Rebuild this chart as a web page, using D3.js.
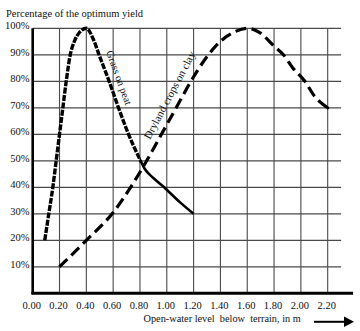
<!DOCTYPE html>
<html>
<head>
<meta charset="utf-8">
<script src="https://cdn.jsdelivr.net/npm/d3@7"></script>
<style>
html,body{margin:0;padding:0;background:#fff;}
svg{display:block;}
text{font-family:"Liberation Serif","Times New Roman",serif;fill:#111;}
</style>
</head>
<body>
<svg id="chart" width="360" height="331"></svg>
<script>
// Data (depth of open water below terrain in m, % of optimum yield)
const grassX = [0.09,0.12,0.15,0.175,0.20,0.225,0.25,0.28,0.31,0.35,0.40,0.455,0.495,0.57,0.64,0.715,0.80,0.835,0.90,0.98,1.095,1.20];
const grassY = [20,30,40,50,60,70,80,90,95,98.5,100,95.5,90,80,70,60,50.5,47,43.5,40,34.5,30];
const grassSolidFrom = 0.80;
const dryX = [0.20,0.40,0.60,0.73,0.85,0.96,1.07,1.18,1.31,1.41,1.50,1.60,1.69,1.80,1.87,1.94,2.03,2.10,2.20];
const dryY = [10,20,30.5,40,50,60,70,80,90,95.5,98.5,100,98.5,93.3,90,85,80,74.5,70];
const xTicks = [0,0.2,0.4,0.6,0.8,1.0,1.2,1.4,1.6,1.8,2.0,2.2];
const xTickLabels = ["0.00","0.20","0.40","0.60","0.80","1.00","1.20","1.40","1.60","1.80","2.00","2.20"];
const yTicks = [10,20,30,40,50,60,70,80,90,100];
const yTickLabels = ["10%","20%","30%","40%","50%","60%","70%","80%","90%","100%"];

const svg = d3.select("#chart");
const x = d3.scaleLinear().domain([0,2.3]).range([32.7,341.1]);
const y = d3.scaleLinear().domain([0,100]).range([293.3,28.3]);

// grid
const grid = svg.append("g");
grid.selectAll("line.h").data(yTicks).join("line")
  .attr("x1", x(0)).attr("x2", x(2.3))
  .attr("y1", d=>y(d)).attr("y2", d=>y(d))
  .attr("stroke","#4a4a4a").attr("stroke-width",1.2);
grid.selectAll("line.v").data(xTicks.slice(1)).join("line")
  .attr("x1", d=>x(d)).attr("x2", d=>x(d))
  .attr("y1", y(100)).attr("y2", y(0))
  .attr("stroke","#4a4a4a").attr("stroke-width",1.1);

// axes lines
svg.append("line").attr("x1",x(0)).attr("x2",x(0)).attr("y1",y(100)).attr("y2",y(0)+1)
  .attr("stroke","#000").attr("stroke-width",2.6);
svg.append("line").attr("x1",x(0)-1.3).attr("x2",353).attr("y1",y(0)).attr("y2",y(0))
  .attr("stroke","#000").attr("stroke-width",3);

// tick labels
svg.append("g").selectAll("text").data(yTicks).join("text")
  .attr("x", 29.5).attr("y", d=>y(d)+0.8)
  .attr("text-anchor","end").attr("font-size",10.5)
  .text((d,i)=>yTickLabels[i]);
svg.append("g").selectAll("text").data(xTicks).join("text")
  .attr("x", d=>x(d)-1).attr("y", 308.5)
  .attr("text-anchor","middle").attr("font-size",10.5)
  .text((d,i)=>xTickLabels[i]);

// titles
svg.append("text").attr("x",6).attr("y",17).attr("font-size",10.5)
  .text("Percentage of the optimum yield");
svg.append("text").attr("x",143.5).attr("y",322).attr("font-size",10.3)
  .attr("xml:space","preserve").style("white-space","pre")
  .text("Open-water level  below  terrain, in m");
// arrow
svg.append("line").attr("x1",314).attr("x2",345).attr("y1",321.8).attr("y2",321.8)
  .attr("stroke","#000").attr("stroke-width",2);
svg.append("path").attr("d","M344,316.5 L354,321.8 L344,327 Z").attr("fill","#000");

// clip regions for grass dashed / solid parts
const defs = svg.append("defs");
defs.append("clipPath").attr("id","clipL").append("rect")
  .attr("x",0).attr("y",0).attr("width",x(grassSolidFrom)).attr("height",331);
defs.append("clipPath").attr("id","clipR").append("rect")
  .attr("x",x(grassSolidFrom)).attr("y",0).attr("width",360).attr("height",331);

// curves
const line = d3.line().x(d=>x(d[0])).y(d=>y(d[1])).curve(d3.curveMonotoneX);
const grass = grassX.map((v,i)=>[v,grassY[i]]);
const dry = dryX.map((v,i)=>[v,dryY[i]]);

svg.append("path").attr("d", line(dry)).attr("fill","none")
  .attr("stroke","#000").attr("stroke-width",3.2).attr("stroke-dasharray","11,5.5");
svg.append("circle").attr("cx",x(2.2)).attr("cy",y(70)).attr("r",1.6).attr("fill","#000");

svg.append("path").attr("d", line(grass)).attr("fill","none").attr("clip-path","url(#clipL)")
  .attr("stroke","#000").attr("stroke-width",3.4).attr("stroke-dasharray","6,1.4");
svg.append("path").attr("d", line(grass)).attr("fill","none").attr("clip-path","url(#clipR)")
  .attr("stroke","#000").attr("stroke-width",2.6);

// curve labels
svg.append("text").attr("font-size",10.5)
  .attr("transform","translate(106,52) rotate(70)")
  .text("Grass on peat");
svg.append("text").attr("font-size",11)
  .attr("transform","translate(150,140) rotate(-62)")
  .text("Dryland crops on clay");
</script>
</body>
</html>
